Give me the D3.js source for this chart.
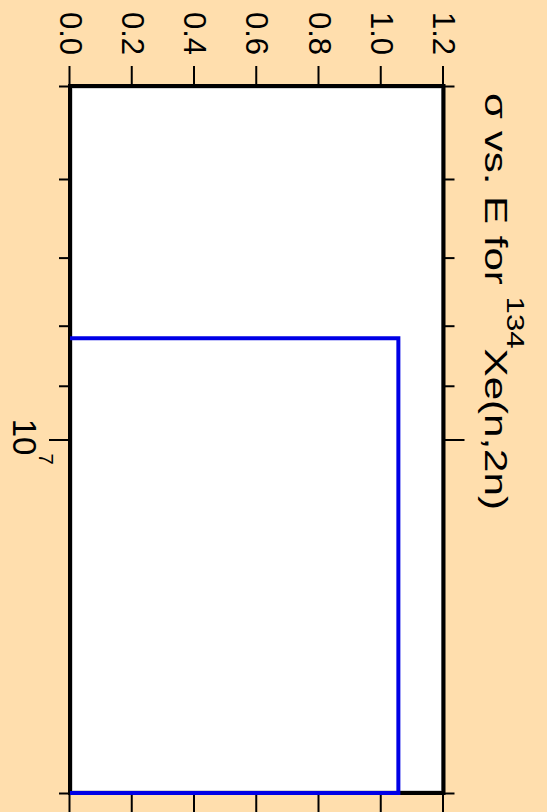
<!doctype html>
<html>
<head>
<meta charset="utf-8">
<script src="https://cdn.jsdelivr.net/npm/d3@7"></script>
<style>
  body { margin: 0; background: #ffdead; }
  svg { display: block; font-family: "Liberation Sans", Arial, sans-serif; }
</style>
</head>
<body>
<script>
// values
const energyTicks = [5e6, 6e6, 7e6, 8e6, 9e6, 2e7];
const energyMajor = [1e7];
const sigmaTicks = [0, 0.2, 0.4, 0.6, 0.8, 1.0, 1.2];
const energy = [8.2e6, 8.2e6, 2e7, 2e7];
const sigma = [0, 1.055, 1.055, 0];

// the chart is laid out 812x547 and turned a quarter clockwise
const W = 812, H = 547;

const svg = d3.select("body").append("svg")
    .attr("width", H)
    .attr("height", W);

svg.append("rect").attr("width", H).attr("height", W).attr("fill", "#ffdead");

const g = svg.append("g").attr("transform", `translate(${H},0) rotate(90)`);

const x = d3.scaleLog().domain([5e6, 2e7]).range([86, 793]);
const y = d3.scaleLinear().domain([0, 1.2]).range([477, 103.5]);

const [x0, x1] = x.range(), [y0, y1] = [y(1.2), y(0)];

g.append("rect")
    .attr("x", x0 + 2).attr("y", y0 + 2)
    .attr("width", x1 - x0 - 4).attr("height", y1 - y0 - 4)
    .attr("fill", "#fff").attr("stroke", "#aaa").attr("stroke-width", 1);

function style(sel) {
  sel.select(".domain").remove();
  sel.selectAll(".tick line").attr("stroke", "#000").attr("stroke-width", 2);
  sel.attr("font-family", null).attr("font-size", 31);
}

// energy axis, bottom and top
g.append("g").attr("transform", `translate(0,${y(0)})`)
    .call(d3.axisBottom(x).tickValues(energyTicks).tickSize(11).tickFormat(""))
    .call(style);
g.append("g").attr("transform", `translate(0,${y(0)})`)
    .call(d3.axisBottom(x).tickValues(energyMajor).tickSize(21).tickFormat(""))
    .call(style)
    .call(s => {
      s.selectAll(".tick text").remove();
      const tick = s.selectAll(".tick");
      tick.append("text")
          .attr("x", -3).attr("y", 57)
          .attr("text-anchor", "middle")
          .attr("font-size", 33)
          .attr("fill", "#000")
          .text("10");
      tick.append("text")
          .attr("x", 19).attr("y", 31)
          .attr("text-anchor", "middle")
          .attr("font-size", 20)
          .attr("fill", "#000")
          .text("7");
    });
g.append("g").attr("transform", `translate(0,${y(1.2)})`)
    .call(d3.axisTop(x).tickValues(energyTicks).tickSize(11).tickFormat(""))
    .call(style);
g.append("g").attr("transform", `translate(0,${y(1.2)})`)
    .call(d3.axisTop(x).tickValues(energyMajor).tickSize(21).tickFormat(""))
    .call(style);

// cross section axis, left and right
g.append("g").attr("transform", `translate(${x0},0)`)
    .call(d3.axisLeft(y).tickValues(sigmaTicks).tickSize(20).tickPadding(11).tickFormat(d3.format(".1f")))
    .call(style)
    .call(s => s.selectAll(".tick text").attr("fill", "#000"));
g.append("g").attr("transform", `translate(${x1},0)`)
    .call(d3.axisRight(y).tickValues(sigmaTicks).tickSize(20).tickFormat(""))
    .call(style);

g.append("rect")
    .attr("x", x0).attr("y", y0)
    .attr("width", x1 - x0).attr("height", y1 - y0)
    .attr("fill", "none").attr("stroke", "#000").attr("stroke-width", 4);

const line = d3.line()
    .x((d, i) => x(energy[i]))
    .y(d => y(d));

g.append("path")
    .attr("d", line(sigma))
    .attr("fill", "none")
    .attr("stroke", "#0000e6")
    .attr("stroke-width", 4)
    .attr("stroke-linejoin", "miter");

// title, stretched along the line to the width seen in the picture
const title = g.append("text")
    .attr("font-size", 31)
    .attr("fill", "#000");
title.append("tspan").text("σ vs. E for ");
title.append("tspan").attr("font-size", 23).attr("dy", -22).text("134");
title.append("tspan").attr("dy", 22).text("Xe(n,2n)");
const tw = title.node().getComputedTextLength();
title.attr("transform", `translate(93,62) scale(${417 / tw},1)`);
</script>
</body>
</html>
